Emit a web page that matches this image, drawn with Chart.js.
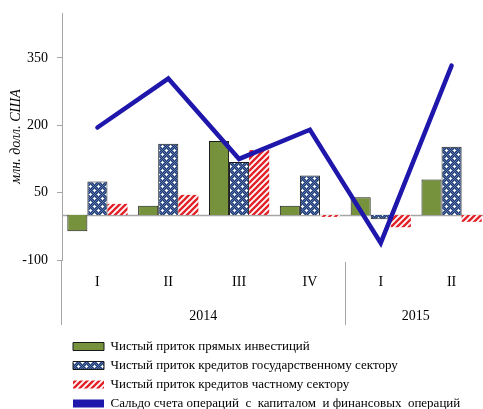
<!DOCTYPE html>
<html>
<head>
<meta charset="utf-8">
<script src="https://cdn.jsdelivr.net/npm/chart.js@4.4.1/dist/chart.umd.min.js"></script>
<style>
  html, body { margin: 0; padding: 0; overflow: hidden; background: #fff; }
  #wrap { position: absolute; left: 0; top: 0; width: 490px; height: 420px; }
</style>
</head>
<body>
<div id="wrap"><canvas id="chart" width="490" height="420"></canvas></div>
<script>
// quarters and years
var quarters = ["I", "II", "III", "IV", "I", "II"];
var yearLabels = ["", "2014", "", "", "2015", ""];
var yTicks = [-100, 50, 200, 350];

// series, млн. долл. США
var directInv = [-36, 21, 165, 21, 40, 79];
var govLoans = [75, 159, 118, 88, -9, 152];
var privLoans = [25, 45, 145, -4, -27, -15];
var balance = [195, 304, 125, 190, -62, 333];

var seriesNames = [
  "Чистый приток прямых инвестиций",
  "Чистый приток кредитов государственному сектору",
  "Чистый приток кредитов частному сектору",
  "Сальдо счета операций  с  капиталом  и финансовых  операций"
];

Chart.defaults.font.family = "Liberation Serif";
Chart.defaults.font.size = 14;
Chart.defaults.color = "#000";

function dotPattern() {
  var c = document.createElement("canvas");
  c.width = 8; c.height = 8;
  var g = c.getContext("2d");
  for (var i = 0; i < 8; i++) {
    for (var j = 0; j < 8; j++) {
      g.fillStyle = (i + j) % 2 ? "#223c72" : "#5572a8";
      g.fillRect(i, j, 1, 1);
    }
  }
  g.fillStyle = "#fff";
  g.fillRect(1, 2, 3, 1); g.fillRect(2, 1, 1, 3);
  g.fillRect(5, 6, 3, 1); g.fillRect(6, 5, 1, 3);
  return g.createPattern(c, "repeat");
}

function stripePattern() {
  var c = document.createElement("canvas");
  c.width = 6; c.height = 6;
  var g = c.getContext("2d");
  g.fillStyle = "#fff";
  g.fillRect(0, 0, 6, 6);
  g.strokeStyle = "#e3232a";
  g.lineWidth = 2.4;
  g.beginPath();
  g.moveTo(-3, 3); g.lineTo(3, -3);
  g.moveTo(0, 6); g.lineTo(6, 0);
  g.moveTo(3, 9); g.lineTo(9, 3);
  g.stroke();
  return g.createPattern(c, "repeat");
}

var dots = dotPattern();
var stripes = stripePattern();

// extra axis lines: zero line, y axis running down into labels, year divider
var extraLines = {
  id: "extraLines",
  afterLayout: function (chart) {
    // legend sits a bit right of the axis in the original
    chart.legend.left += 5;
    chart.legend.right += 5;
  },
  beforeDatasetsDraw: function (chart) {
    var ctx = chart.ctx, a = chart.chartArea, y = chart.scales.y;
    var y0 = Math.round(y.getPixelForValue(0)) + 0.5;
    ctx.save();
    ctx.strokeStyle = "#a6a6a6";
    ctx.lineWidth = 1.5;
    ctx.beginPath();
    ctx.moveTo(a.left, y0);
    ctx.lineTo(a.right, y0);
    ctx.stroke();
    ctx.restore();
  },
  afterDraw: function (chart) {
    var ctx = chart.ctx, a = chart.chartArea, x = chart.scales.x;
    ctx.save();
    ctx.strokeStyle = "#a6a6a6";
    ctx.lineWidth = 1;
    ctx.beginPath();
    ctx.moveTo(a.left - 0.5, a.bottom);
    ctx.lineTo(a.left - 0.5, 325);
    var xs = Math.round(x.getPixelForValue(3.5)) + 0.5;
    ctx.moveTo(xs, a.bottom + 2);
    ctx.lineTo(xs, 325);
    ctx.stroke();
    ctx.restore();
  }
};

new Chart(document.getElementById("chart"), {
  type: "bar",
  data: {
    labels: quarters,
    datasets: [
      { label: seriesNames[0], data: directInv, backgroundColor: "#76923c",
        borderColor: "#1a1a1a", borderWidth: 1, order: 1 },
      { label: seriesNames[1], data: govLoans, backgroundColor: dots,
        borderColor: "#1a1a1a", borderWidth: 1, order: 1 },
      { label: seriesNames[2], data: privLoans, backgroundColor: stripes,
        borderWidth: 0, order: 1 },
      { type: "line", label: seriesNames[3], data: balance,
        borderColor: "#1f17ab", backgroundColor: "#1f17ab", borderWidth: 4.5,
        pointRadius: 0, tension: 0, borderCapStyle: "round", order: 0 }
    ]
  },
  options: {
    responsive: false,
    animation: false,
    layout: { padding: { top: 13, right: 3, left: 0, bottom: 0 } },
    datasets: { bar: { barPercentage: 1.0, categoryPercentage: 0.85 } },
    scales: {
      x: {
        grid: { display: false },
        border: { display: false },
        ticks: { padding: 6, maxRotation: 0 },
        afterFit: function (s) { s.height = 32; }
      },
      x2: {
        type: "category",
        labels: yearLabels,
        position: "bottom",
        weight: 1,
        offset: true,
        grid: { display: false },
        border: { display: false },
        ticks: { padding: 8, autoSkip: false, maxRotation: 0, labelOffset: 35 },
        afterFit: function (s) { s.height = 42; }
      },
      y: {
        min: -100,
        max: 450,
        afterBuildTicks: function (s) {
          s.ticks = yTicks.map(function (v) { return { value: v }; });
        },
        grid: { drawOnChartArea: false, drawTicks: true, tickLength: 5, color: "#a6a6a6" },
        border: { display: true, color: "#a6a6a6", width: 1 },
        ticks: { padding: 9 },
        title: {
          display: true,
          text: "млн. долл. США",
          font: { style: "italic", size: 14 },
          padding: { top: 8, bottom: 0 }
        },
        afterFit: function (s) { s.width = 62; s.paddingTop = 0; s.paddingBottom = 0; }
      }
    },
    plugins: {
      tooltip: { enabled: false },
      legend: {
        position: "bottom",
        align: "start",
        fullSize: false,
        labels: {
          boxWidth: 31,
          boxHeight: 8,
          padding: 6,
          color: "#000",
          font: { size: 13 },
          generateLabels: function (chart) {
            return chart.data.datasets.map(function (ds, i) {
              var isLine = ds.type === "line";
              return {
                text: ds.label,
                fillStyle: ds.backgroundColor,
                strokeStyle: isLine ? ds.borderColor : (ds.borderWidth ? ds.borderColor : "rgba(0,0,0,0)"),
                lineWidth: isLine ? 0 : (ds.borderWidth || 0),
                fontColor: "#000",
                datasetIndex: i,
                hidden: false
              };
            });
          }
        }
      }
    }
  },
  plugins: [extraLines]
});
</script>
</body>
</html>
